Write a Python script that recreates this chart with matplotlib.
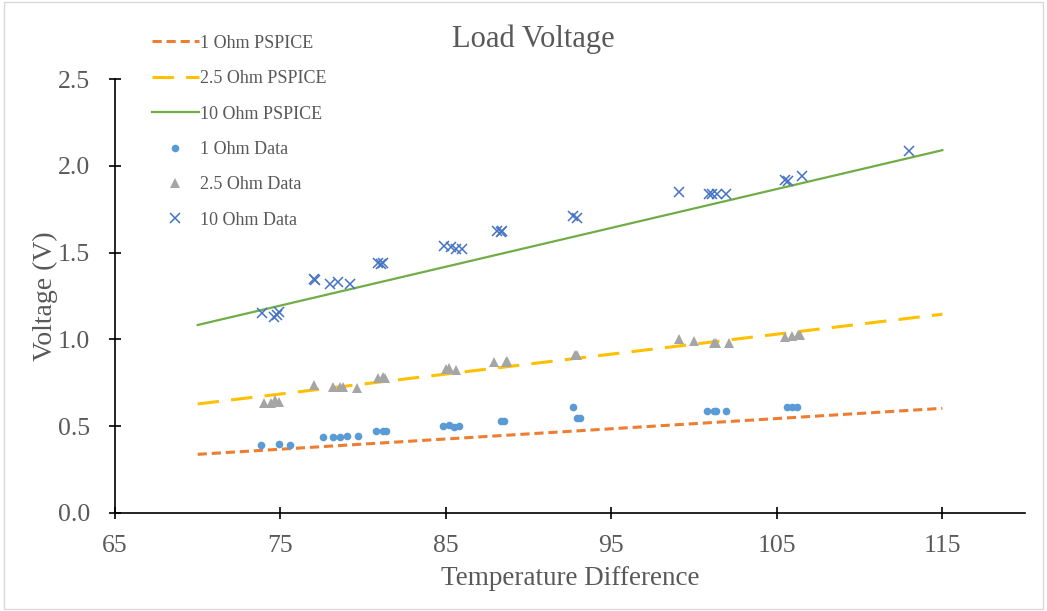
import numpy as np
import matplotlib
matplotlib.use("Agg")
import matplotlib.pyplot as plt
from matplotlib.patches import Rectangle

# PSPICE simulation lines (temperature difference -> load voltage)
sim_temp = [70, 115]
sim_1ohm = [0.338, 0.603]
sim_25ohm = [0.628, 1.145]
sim_10ohm = [1.083, 2.09]

# measured data
t_1ohm = [73.8, 74.9, 75.6, 77.6, 78.2, 78.6, 79.0, 79.7, 80.8, 81.2, 81.4,
          84.8, 85.2, 85.5, 85.8, 88.3, 88.5, 92.7, 92.9, 93.1,
          100.8, 101.2, 101.3, 101.9, 105.6, 105.9, 106.2]
v_1ohm = [0.39, 0.40, 0.39, 0.44, 0.44, 0.44, 0.445, 0.445, 0.47, 0.47, 0.47,
          0.50, 0.505, 0.495, 0.50, 0.53, 0.53, 0.61, 0.545, 0.545,
          0.59, 0.585, 0.59, 0.59, 0.61, 0.61, 0.61]

t_25ohm = [74.0, 74.4, 74.7, 74.9, 77.0, 78.2, 78.6, 78.8, 79.6, 80.9, 81.2, 81.3,
           85.0, 85.2, 85.6, 87.9, 88.6, 88.7, 92.8, 92.9,
           99.1, 100.0, 101.2, 101.3, 102.1, 105.5, 105.9, 106.3, 106.4]
v_25ohm = [0.635, 0.635, 0.65, 0.64, 0.74, 0.725, 0.725, 0.725, 0.72, 0.78, 0.785, 0.78,
           0.83, 0.835, 0.825, 0.87, 0.87, 0.875, 0.91, 0.91,
           1.005, 0.99, 0.98, 0.98, 0.98, 1.015, 1.02, 1.025, 1.025]

t_10ohm = [73.9, 74.6, 74.8, 74.9, 77.0, 77.1, 78.0, 78.5, 79.2, 80.9, 81.1, 81.2,
           84.9, 85.3, 85.6, 86.0, 88.1, 88.3, 88.4, 92.7, 92.9,
           99.1, 100.9, 101.1, 101.4, 101.9, 105.5, 105.7, 106.5, 113.0]
v_10ohm = [1.15, 1.13, 1.14, 1.16, 1.35, 1.345, 1.32, 1.33, 1.32, 1.44, 1.435, 1.44,
           1.54, 1.535, 1.52, 1.52, 1.625, 1.62, 1.625, 1.71, 1.70,
           1.85, 1.84, 1.84, 1.84, 1.84, 1.92, 1.915, 1.94, 2.085]

plt.rcParams['font.family'] = ['Liberation Serif', 'DejaVu Serif']
txt = '#595959'

fig = plt.figure(figsize=(10.47, 6.11), dpi=100)
ax = fig.add_axes([0.1098, 0.1604, 0.8693, 0.7103])

l1, = ax.plot(sim_temp, sim_1ohm, color='#ED7D31', lw=2.2, dashes=(3, 1.6), label='1 Ohm PSPICE')
l2, = ax.plot(sim_temp, sim_25ohm, color='#FFC000', lw=2.2, dashes=(7, 4), label='2.5 Ohm PSPICE')
l3, = ax.plot(sim_temp, sim_10ohm, color='#70AD47', lw=1.6, label='10 Ohm PSPICE')
s1, = ax.plot(t_1ohm, v_1ohm, 'o', color='#5B9BD5', ms=5.5, mew=0, ls='none', label='1 Ohm Data')
s2, = ax.plot(t_25ohm, v_25ohm, '^', color='#A5A5A5', ms=7.5, mew=0, ls='none', label='2.5 Ohm Data')
s3, = ax.plot(t_10ohm, v_10ohm, 'x', color='#4472C4', ms=7.5, mew=1.1, ls='none', label='10 Ohm Data')

ax.set_xlim(65, 120)
ax.set_ylim(0, 2.5)
ax.set_xticks(np.arange(65, 116, 10))
ax.set_yticks(np.arange(0, 2.51, 0.5))
ax.yaxis.set_major_formatter(matplotlib.ticker.FormatStrFormatter('%.1f'))
for side in ['top', 'right']:
    ax.spines[side].set_visible(False)
for side in ['left', 'bottom']:
    ax.spines[side].set_color('black')
    ax.spines[side].set_linewidth(1.2)
ax.tick_params(direction='inout', length=8, width=1.2, colors='black',
               labelcolor=txt, labelsize=18.5)
ax.tick_params(axis='x', pad=12)
ax.tick_params(axis='y', pad=14)

ax.set_xlabel('Temperature Difference', fontsize=19.5, color=txt, labelpad=6)
ax.set_ylabel('Voltage (V)', fontsize=20, color=txt, labelpad=0)
fig.text(0.509, 0.935, 'Load Voltage', ha='center', va='center', fontsize=22, color=txt)

fig.legend(handles=[l1, l2, l3, s1, s2, s3], loc='upper left',
           bbox_to_anchor=(0.138, 0.955), frameon=False, fontsize=13,
           labelcolor=txt, handlelength=2.6, handletextpad=0.1,
           labelspacing=1.02, borderaxespad=0)

fig.patches.append(Rectangle((0.004, 0.004), 0.992, 0.992, transform=fig.transFigure,
                             fill=False, edgecolor='#D9D9D9', lw=1))

fig.savefig('out.png', dpi=100)
